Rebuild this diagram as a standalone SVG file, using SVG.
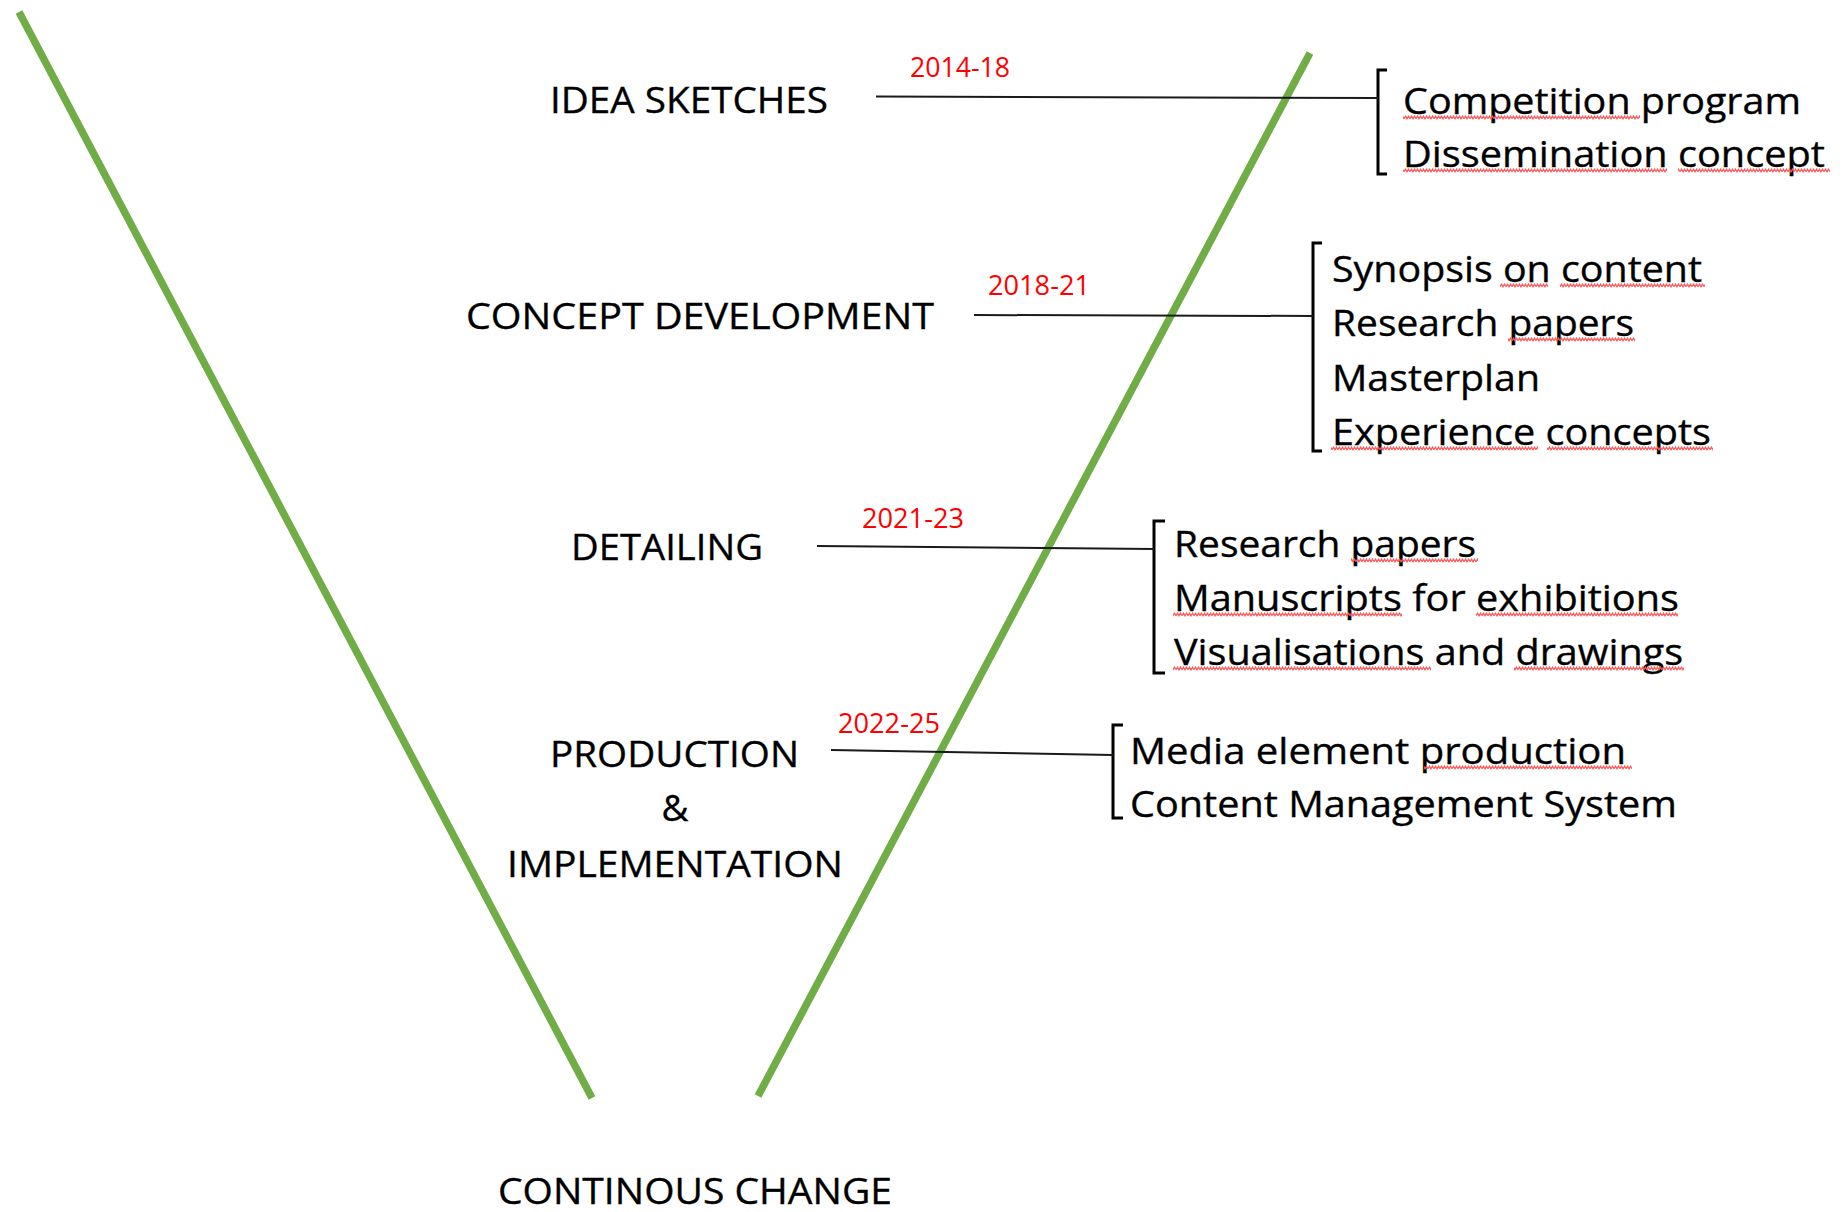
<svg xmlns="http://www.w3.org/2000/svg" width="1847" height="1212" viewBox="0 0 1847 1212">
  <defs>
    <!-- wavy spell-check underline, tiled along each flagged word -->
    <pattern id="squiggle" patternUnits="userSpaceOnUse" x="0" y="0" width="6" height="5">
      <polyline points="0,3.8 1.5,1.2 3,3.8 4.5,1.2 6,3.8" fill="none" stroke="#ff5555" stroke-width="1.3"/>
    </pattern>
  </defs>
  <style>
    .stage { font-family: "Open Sans", "Liberation Sans", sans-serif; font-size: 37px; fill: #000; stroke: #000; stroke-width: 0.35; }
    .date { font-family: "Open Sans", "Liberation Sans", sans-serif; font-size: 26.5px; fill: #ff0000; }
    .item { font-family: "Open Sans", "Liberation Sans", sans-serif; font-size: 37px; fill: #000; stroke: #000; stroke-width: 0.35; }
    .v { stroke: #70ad47; stroke-width: 7.5; stroke-linecap: butt; fill: none; }
    .link { stroke: #1a1a1a; stroke-width: 2; fill: none; }
    .bracket { stroke: #000; stroke-width: 3; fill: none; }
    .sq { fill: url(#squiggle); }
  </style>
  <rect width="1847" height="1212" fill="#ffffff"/>

  <!-- the V: two green strokes converging toward the bottom -->
  <g id="v-shape">
    <line class="v" x1="19" y1="12" x2="592" y2="1098"/>
    <line class="v" x1="1310" y1="53" x2="758" y2="1096"/>
  </g>

  <!-- phase labels with their periods -->
  <g id="stage-idea-sketches">
    <text class="stage" x="550" y="113" textLength="278" lengthAdjust="spacingAndGlyphs">IDEA SKETCHES</text>
    <text class="date" x="910" y="77" textLength="100" lengthAdjust="spacingAndGlyphs">2014-18</text>
  </g>
  <g id="stage-concept-development">
    <text class="stage" x="466" y="329" textLength="468" lengthAdjust="spacingAndGlyphs">CONCEPT DEVELOPMENT</text>
    <text class="date" x="988" y="295" textLength="102" lengthAdjust="spacingAndGlyphs">2018-21</text>
  </g>
  <g id="stage-detailing">
    <text class="stage" x="571" y="560" textLength="192" lengthAdjust="spacingAndGlyphs">DETAILING</text>
    <text class="date" x="862" y="528" textLength="102" lengthAdjust="spacingAndGlyphs">2021-23</text>
  </g>
  <g id="stage-production">
    <text class="stage" x="550" y="767" textLength="249" lengthAdjust="spacingAndGlyphs">PRODUCTION</text>
    <text class="stage" x="675" y="821" text-anchor="middle">&amp;</text>
    <text class="stage" x="507" y="877" textLength="336" lengthAdjust="spacingAndGlyphs">IMPLEMENTATION</text>
    <text class="date" x="838" y="733" textLength="102" lengthAdjust="spacingAndGlyphs">2022-25</text>
  </g>
  <g id="stage-continuous-change">
    <text class="stage" x="498" y="1204" textLength="394" lengthAdjust="spacingAndGlyphs">CONTINOUS CHANGE</text>
  </g>

  <!-- deliverable lists, each behind a square bracket -->
  <g id="list-idea-sketches">
    <path class="bracket" d="M1387,70 H1378 V174 H1387"/>
    <text class="item" x="1403" y="114" textLength="398" lengthAdjust="spacingAndGlyphs">Competition program</text>
    <text class="item" x="1403" y="167" textLength="422" lengthAdjust="spacingAndGlyphs">Dissemination concept</text>
    <rect class="sq" x="1403" y="0" width="237" height="5" transform="translate(0,115)"/>
    <rect class="sq" x="1403" y="0" width="264" height="5" transform="translate(0,168)"/>
    <rect class="sq" x="1678" y="0" width="152" height="5" transform="translate(0,168)"/>
  </g>
  <g id="list-concept-development">
    <path class="bracket" d="M1322,243 H1313 V451 H1322"/>
    <text class="item" x="1332" y="282" textLength="370" lengthAdjust="spacingAndGlyphs">Synopsis on content</text>
    <text class="item" x="1332" y="336" textLength="302" lengthAdjust="spacingAndGlyphs">Research papers</text>
    <text class="item" x="1332" y="391" textLength="208" lengthAdjust="spacingAndGlyphs">Masterplan</text>
    <text class="item" x="1332" y="445" textLength="379" lengthAdjust="spacingAndGlyphs">Experience concepts</text>
    <rect class="sq" x="1500" y="0" width="48" height="5" transform="translate(0,283)"/>
    <rect class="sq" x="1560" y="0" width="145" height="5" transform="translate(0,283)"/>
    <rect class="sq" x="1508" y="0" width="127" height="5" transform="translate(0,337)"/>
    <rect class="sq" x="1331" y="0" width="207" height="5" transform="translate(0,446)"/>
    <rect class="sq" x="1547" y="0" width="166" height="5" transform="translate(0,446)"/>
  </g>
  <g id="list-detailing">
    <path class="bracket" d="M1165,521 H1154 V673 H1165"/>
    <text class="item" x="1174" y="557" textLength="302" lengthAdjust="spacingAndGlyphs">Research papers</text>
    <text class="item" x="1174" y="611" textLength="505" lengthAdjust="spacingAndGlyphs">Manuscripts for exhibitions</text>
    <text class="item" x="1174" y="665" textLength="509" lengthAdjust="spacingAndGlyphs">Visualisations and drawings</text>
    <rect class="sq" x="1351" y="0" width="127" height="5" transform="translate(0,558)"/>
    <rect class="sq" x="1173" y="0" width="229" height="5" transform="translate(0,612)"/>
    <rect class="sq" x="1476" y="0" width="202" height="5" transform="translate(0,612)"/>
    <rect class="sq" x="1173" y="0" width="258" height="5" transform="translate(0,666)"/>
    <rect class="sq" x="1514" y="0" width="170" height="5" transform="translate(0,666)"/>
  </g>
  <g id="list-production">
    <path class="bracket" d="M1123,725 H1113 V818 H1123"/>
    <text class="item" x="1130" y="764" textLength="496" lengthAdjust="spacingAndGlyphs">Media element production</text>
    <text class="item" x="1130" y="817" textLength="547" lengthAdjust="spacingAndGlyphs">Content Management System</text>
    <rect class="sq" x="1424" y="0" width="208" height="5" transform="translate(0,765)"/>
  </g>

  <!-- leader lines from each phase to its bracket -->
  <g id="connectors">
    <line class="link" x1="876" y1="96.5" x2="1378" y2="98"/>
    <line class="link" x1="974" y1="315" x2="1313" y2="316"/>
    <line class="link" x1="817" y1="546" x2="1154" y2="549"/>
    <line class="link" x1="831" y1="750" x2="1113" y2="755"/>
  </g>
</svg>
